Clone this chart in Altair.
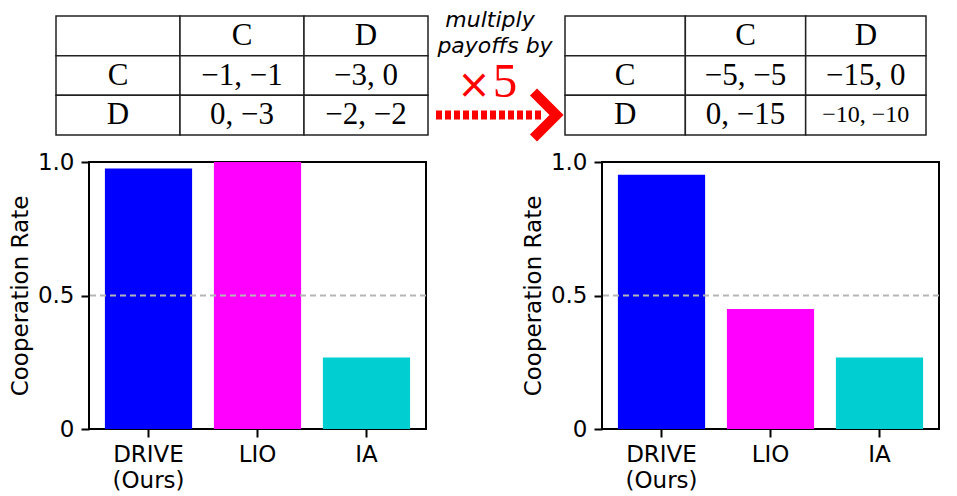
import altair as alt
import pandas as pd

# bar panels: cooperation rate per method, before / after multiplying payoffs
methods = ["DRIVE (Ours)", "LIO", "IA"]
bar_colors = ["#0000ff", "#ff00ff", "#00ced1"]
rate_original = [0.976, 1.0, 0.268]
rate_scaled = [0.952, 0.449, 0.268]
y_ticks = [0, 0.5, 1.0]
ref_level = [0.5]

# payoff tables (row player action, column player action)
actions = ["C", "D"]
payoff_original = [["−1, −1", "−3, 0"], ["0, −3", "−2, −2"]]
payoff_scaled = [["−5, −5", "−15, 0"], ["0, −15", "−10, −10"]]
small_cells = ["−10, −10"]

SANS = "DejaVu Sans"
SERIF = "Liberation Serif"
RED = "#ff0000"
BLANK = alt.Data(values=[{}])


def table_frame(payoffs):
    keys = ["head"] + actions
    recs = []
    for r in keys:
        for c in keys:
            if r == "head":
                text = "" if c == "head" else c
            elif c == "head":
                text = r
            else:
                text = payoffs[actions.index(r)][actions.index(c)]
            recs.append(
                {"row": r, "col": c, "text": text,
                 "size": 24 if text in small_cells else 31}
            )
    return pd.DataFrame(recs)


def table(payoffs, x_range):
    df = table_frame(payoffs)
    keys = ["head"] + actions
    x = alt.X("col:N", sort=keys, axis=None,
              scale=alt.Scale(range=x_range, paddingInner=0, paddingOuter=0))
    y = alt.Y("row:N", sort=keys, axis=None,
              scale=alt.Scale(paddingInner=0, paddingOuter=0))
    cells = alt.Chart(df).mark_rect(
        fill="white", stroke="#222222", strokeWidth=1.5
    ).encode(x=x, y=y)
    text = alt.Chart(df).mark_text(font=SERIF, color="black").encode(
        x=x, y=y, text="text:N", size=alt.Size("size:Q", scale=None)
    )
    return cells + text


def note(label, x, y, **kw):
    return alt.Chart(BLANK).mark_text(**kw).encode(
        x=alt.value(x), y=alt.value(y), text=alt.value(label)
    )


def arrow():
    italic = dict(font=SANS, fontStyle="italic", fontSize=22, align="center",
                  baseline="middle", color="black")
    line1 = note("multiply", 401, 4, **italic)
    line2 = note("payoffs by", 406, 30, **italic)
    cross = note("×", 385, 82, font=SANS, fontSize=40, color=RED,
                 align="center", baseline="alphabetic")
    five = note("5", 416, 81, font=SERIF, fontSize=49, color=RED,
                align="center", baseline="alphabetic")
    dots = alt.Chart(BLANK).mark_rule(
        color=RED, strokeWidth=9, strokeDash=[6, 3], strokeCap="butt"
    ).encode(x=alt.value(347), x2=alt.value(452), y=alt.value(99))
    head = alt.Chart(BLANK).mark_point(
        shape="M -1 -1 L 0 0 L -1 1", filled=False, stroke=RED, strokeWidth=10,
        strokeJoin="miter", size=2116, opacity=1
    ).encode(x=alt.value(467.5), y=alt.value(99))
    return line1 + line2 + cross + five + dots + head


def bar_panel(rates):
    df = pd.DataFrame({"method": methods, "rate": rates})
    x = alt.X(
        "method:N", sort=methods, title=None,
        scale=alt.Scale(paddingInner=0.2, paddingOuter=0.146),
        axis=alt.Axis(labelAngle=0, labelExpr="split(datum.label, ' ')",
                      labelFontSize=23, labelLineHeight=26, labelPadding=6,
                      tickSize=8, tickWidth=2, tickColor="black",
                      domain=False, grid=False),
    )
    y_axis = alt.Axis(values=y_ticks,
                      labelExpr="datum.value == 0 ? '0' : format(datum.value, '.1f')",
                      labelFontSize=23, labelPadding=7, tickSize=8, tickWidth=2,
                      tickColor="black", domain=False, grid=False,
                      titleFontSize=23, titleFontWeight="normal", titlePadding=5)
    y = alt.Y("rate:Q", title="Cooperation Rate",
              scale=alt.Scale(domain=[0, 1], nice=False), axis=y_axis)
    bars = alt.Chart(df).mark_bar().encode(
        x=x, y=y,
        color=alt.Color("method:N", scale=alt.Scale(domain=methods, range=bar_colors),
                        legend=None),
    )
    ref = alt.Chart(pd.DataFrame({"level": ref_level})).mark_rule(
        color="#b5b5b5", strokeWidth=2, strokeDash=[6, 4]
    ).encode(y=alt.Y("level:Q", title="Cooperation Rate"))
    return alt.layer(bars, ref).properties(
        width=337, height=267,
        view=alt.ViewBackground(stroke="black", strokeWidth=2),
    )


top_left = alt.layer(table(payoff_original, [-33, 339]), arrow()).properties(
    width=337, height=119
)
top_right = table(payoff_scaled, [-37, 324]).properties(width=337, height=119)

chart = (
    alt.concat(
        top_left, top_right, bar_panel(rate_original), bar_panel(rate_scaled),
        columns=2, spacing={"row": 27, "column": 176}, bounds="flush",
    )
    .properties(padding=0)
    .configure_view(stroke="transparent")
    .configure_axis(labelFont=SANS, titleFont=SANS, labelColor="black",
                    titleColor="black")
)

chart.save("out.html", embed_options={"renderer": "svg", "actions": False})
